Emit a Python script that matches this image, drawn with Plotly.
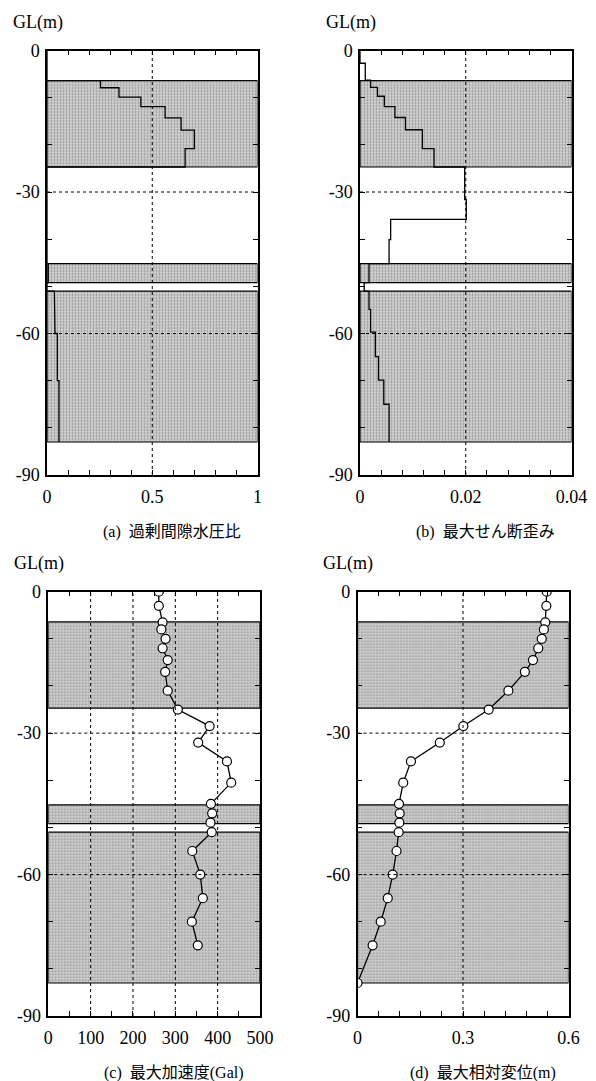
import plotly.graph_objects as go

W, H = 596, 1081

# ---------------- data ----------------
# shaded (liquefiable sand) layers, depth GL (m)
band_top = [-6.4, -45.2, -51.0]
band_bottom = [-24.7, -49.2, -83.0]

# (a) excess pore water pressure ratio: layer boundaries (m) and values
a_depth = [0, 6.4, 7.9, 9.9, 11.9, 14.3, 16.9, 20.8, 24.7, 45.2, 49.2, 51.0, 54.3, 60.0, 70.0, 83.0]
a_ratio = [0, 0.254, 0.342, 0.446, 0.561, 0.637, 0.70, 0.656, 0, 0.006, 0, 0.035, 0.038, 0.049, 0.057]

# (b) maximum shear strain
b_depth = [0, 2.7, 6.3, 7.8, 9.7, 11.9, 14.2, 16.8, 20.8, 24.7, 31.6, 35.8, 40.1, 45.2, 49.2, 51.0,
           54.9, 59.7, 64.9, 69.9, 75.0, 83.0]
b_strain = [0, 0.001, 0.002, 0.0033, 0.0046, 0.0066, 0.0086, 0.0118, 0.014, 0.0198, 0.0201, 0.0058,
            0.0055, 0.0017, 0.0008, 0.0017, 0.002, 0.0029, 0.0035, 0.0045, 0.0055]

# (c) maximum acceleration (Gal)
c_depth = [0, 3.0, 6.5, 8.0, 10.0, 12.0, 14.5, 17.0, 21.0, 25.0, 28.5, 32.0, 36.0, 40.5, 45.0,
           47.0, 49.0, 51.0, 55.0, 60.0, 65.0, 70.0, 75.0]
c_acc = [261, 261, 270, 267, 277, 270, 282, 276, 282, 306, 381, 354, 422, 432, 384,
         387, 383, 386, 340, 359, 365, 339, 353]

# (d) maximum relative displacement (m)
d_depth = [0, 3.0, 6.5, 8.0, 10.0, 12.0, 14.5, 17.0, 21.0, 25.0, 28.5, 32.0, 36.0, 40.5, 45.0,
           47.0, 49.0, 51.0, 55.0, 60.0, 65.0, 70.0, 75.0, 83.0]
d_disp = [0.538, 0.537, 0.534, 0.530, 0.524, 0.514, 0.499, 0.476, 0.429, 0.373, 0.301, 0.234,
          0.152, 0.130, 0.118, 0.120, 0.119, 0.117, 0.111, 0.100, 0.086, 0.066, 0.043, 0.0]

# axis settings per panel
x_ranges = [[0, 1], [0, 0.04], [0, 500], [0, 0.6]]
x_ticks = [[0, 0.5, 1], [0, 0.02, 0.04], [0, 100, 200, 300, 400, 500], [0, 0.3, 0.6]]
x_ticktext = [["0", "0.5", "1"], ["0", "0.02", "0.04"],
              ["0", "100", "200", "300", "400", "500"], ["0", "0.3", "0.6"]]
x_minor = [0.1, 0.004, 50, 0.06]
y_ticks = [0, -30, -60, -90]
captions = ["(a)  過剰間隙水圧比", "(b)  最大せん断歪み", "(c)  最大加速度(Gal)", "(d)  最大相対変位(m)"]

# ---------------- layout geometry (pixels) ----------------
panels_px = [  # left, right, top, bottom
    (47, 257.5, 50.5, 475),
    (360, 571.5, 50.5, 475),
    (48.3, 260, 591.7, 1016),
    (357.5, 568.5, 591.7, 1016),
]

SERIF = "'Liberation Serif', 'Times New Roman', serif"
CJK = "'Liberation Serif', 'Noto Sans CJK JP', serif"

fig = go.Figure()


def step_xy(depths, vals):
    xs, ys = [], []
    for i, v in enumerate(vals):
        xs += [v, v]
        ys += [-depths[i], -depths[i + 1]]
    return xs, ys


for k in range(4):
    sx = "" if k == 0 else str(k + 1)
    xmax = x_ranges[k][1]
    # shaded layers
    fig.add_trace(go.Bar(
        orientation="h",
        x=[xmax] * len(band_top),
        base=[0] * len(band_top),
        y=[(t + b) / 2 for t, b in zip(band_top, band_bottom)],
        width=[t - b for t, b in zip(band_top, band_bottom)],
        marker=dict(color="#d4d4d4", line=dict(color="black", width=1.2),
                    pattern=dict(shape=".", fgcolor="#555555", size=3, solidity=0.4,
                                 fillmode="overlay")),
        xaxis="x" + sx, yaxis="y" + sx, showlegend=False, hoverinfo="skip",
    ))

# step lines
xs, ys = step_xy(a_depth, a_ratio)
fig.add_trace(go.Scatter(x=xs, y=ys, mode="lines", line=dict(color="black", width=1.3),
                         xaxis="x", yaxis="y", showlegend=False))
xs, ys = step_xy(b_depth, b_strain)
fig.add_trace(go.Scatter(x=xs, y=ys, mode="lines", line=dict(color="black", width=1.3),
                         xaxis="x2", yaxis="y2", showlegend=False))
# profiles with markers
fig.add_trace(go.Scatter(x=c_acc, y=[-d for d in c_depth], mode="lines+markers",
                         line=dict(color="black", width=1.3),
                         marker=dict(symbol="circle", size=9, color="white",
                                     line=dict(color="black", width=1.2)),
                         xaxis="x3", yaxis="y3", showlegend=False))
fig.add_trace(go.Scatter(x=d_disp, y=[-d for d in d_depth], mode="lines+markers",
                         line=dict(color="black", width=1.3),
                         marker=dict(symbol="circle", size=9, color="white",
                                     line=dict(color="black", width=1.2)),
                         xaxis="x4", yaxis="y4", showlegend=False))

layout = dict(width=W, height=H, margin=dict(l=0, r=0, t=0, b=0),
              paper_bgcolor="white", plot_bgcolor="white", barmode="overlay",
              font=dict(family=SERIF, size=18, color="black"))
shapes, annotations = [], []

for k in range(4):
    l, r, t, b = panels_px[k]
    sx = "" if k == 0 else str(k + 1)
    layout["xaxis" + sx] = dict(
        domain=[l / W, r / W], anchor="y" + sx, range=x_ranges[k],
        tickmode="array", tickvals=x_ticks[k], ticktext=x_ticktext[k],
        ticks="inside", ticklen=5, tickwidth=1, tickcolor="black",
        minor=dict(dtick=x_minor[k], tick0=0, ticks="inside", ticklen=5, tickwidth=1,
                   tickcolor="black", showgrid=False),
        showline=True, linecolor="black", linewidth=1.5, mirror="ticks",
        showgrid=False, zeroline=False, layer="above traces", automargin=False,
        tickfont=dict(family=SERIF, size=18), ticklabelstandoff=5, fixedrange=True,
    )
    layout["yaxis" + sx] = dict(
        domain=[1 - b / H, 1 - t / H], anchor="x" + sx, range=[-90, 0],
        tickmode="array", tickvals=y_ticks, ticktext=[str(v) for v in y_ticks],
        ticks="inside", ticklen=5, tickwidth=1, tickcolor="black",
        minor=dict(dtick=10, tick0=0, ticks="inside", ticklen=5, tickwidth=1,
                   tickcolor="black", showgrid=False),
        showline=True, linecolor="black", linewidth=1.5, mirror="ticks",
        showgrid=False, zeroline=False, layer="above traces", automargin=False,
        tickfont=dict(family=SERIF, size=18), ticklabelstandoff=2, fixedrange=True,
    )
    # dashed grid lines drawn above the shading
    for v in x_ticks[k][1:-1]:
        shapes.append(dict(type="line", xref="x" + sx, yref="y" + sx + " domain",
                           x0=v, x1=v, y0=0, y1=1, layer="above",
                           line=dict(color="black", width=1, dash="3px,3px")))
    for v in y_ticks[1:-1]:
        shapes.append(dict(type="line", xref="x" + sx + " domain", yref="y" + sx,
                           x0=0, x1=1, y0=v, y1=v, layer="above",
                           line=dict(color="black", width=1, dash="3px,3px")))
    # GL(m) label
    annotations.append(dict(text="GL(m)", xref="paper", yref="paper",
                            x=(l - 9) / W, y=1 - (t - 28) / H, xanchor="center", yanchor="middle",
                            showarrow=False, font=dict(family=SERIF, size=18)))
    # caption
    annotations.append(dict(text=captions[k], xref="paper", yref="paper",
                            x=((l + r) / 2 + 20) / W, y=1 - (b + 57) / H,
                            xanchor="center", yanchor="middle", showarrow=False,
                            font=dict(family=CJK, size=16)))

layout["shapes"] = shapes
layout["annotations"] = annotations
fig.update_layout(**layout)

fig.write_html("out.html", config={"displayModeBar": False},
               post_script="document.body.style.margin='0';document.body.style.overflow='hidden';")
